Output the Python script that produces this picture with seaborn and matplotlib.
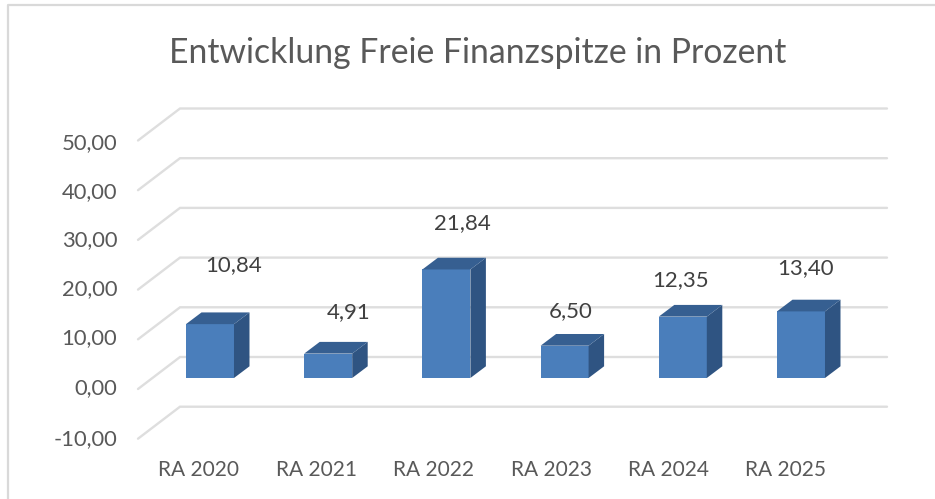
import matplotlib
matplotlib.use("Agg")
import matplotlib.pyplot as plt
import matplotlib.transforms as mtrans
from matplotlib.patches import Polygon
import pandas as pd
import seaborn as sns

categories = ["RA 2020", "RA 2021", "RA 2022", "RA 2023", "RA 2024", "RA 2025"]
values = [10.84, 4.91, 21.84, 6.50, 12.35, 13.40]
value_labels = ["10,84", "4,91", "21,84", "6,50", "12,35", "13,40"]
y_ticks = [-10, 0, 10, 20, 30, 40, 50]
y_tick_labels = ["-10,00", "0,00", "10,00", "20,00", "30,00", "40,00", "50,00"]

# pixel layout of the picture
W, H = 935, 499
left, right, top, bottom = 130, 890, 100, 450
x0, x_step = 210, 118.2    # centre of first bar, bar spacing
y0, y_step = 378, 4.97     # baseline of the bars, pixels per unit
label_dx = [24, 20, 16, 6, -2, 5]
label_dy = [59, 42, 46, 35, 37, 43]
y_label_shift = [9, 8, 8, 8, 9, 11, 12]
x_label_shift = [11, 12, 13, 13, 14, 16]

sns.set_theme(style="white")
plt.rcParams["font.family"] = ["Lato", "DejaVu Sans"]

df = pd.DataFrame({"cat": categories, "val": values})

fig = plt.figure(figsize=(W / 100, H / 100), dpi=100)
ax = fig.add_axes([left / W, 1 - bottom / H, (right - left) / W, (bottom - top) / H])

sns.barplot(data=df, x="cat", y="val", color="#4a7ebb", saturation=1, width=0.406,
            linewidth=0, ax=ax, zorder=3)

ax.set_xlim((left - x0) / x_step, (right - x0) / x_step)
ax.set_ylim((y0 - bottom) / y_step, (y0 - top) / y_step)
ax.set_xlabel("")
ax.set_ylabel("")
sns.despine(ax=ax, left=True, bottom=True)
ax.patch.set_alpha(0)

# 3d look: depth of bars and of the back wall, in data units
dx = 15.5 / x_step
dy = 11.7 / y_step
wall_up = 21 / y_step
floor_down = 11 / y_step
wall_x0 = (180 - x0) / x_step
wall_x1 = (887 - x0) / x_step
front_x = (138 - x0) / x_step

for v in y_ticks:
    ax.plot([front_x, wall_x0, wall_x1],
            [v - floor_down, v + wall_up, v + wall_up],
            color="#dedede", lw=1.7, zorder=1, clip_on=False, solid_joinstyle="miter")

for bar in ax.patches[:len(values)]:
    xa, xb = bar.get_x(), bar.get_x() + bar.get_width()
    h = bar.get_height()
    ax.add_patch(Polygon([(xb, 0), (xb + dx, dy), (xb + dx, h + dy), (xb, h)],
                         closed=True, color="#2f5482", lw=0, zorder=4))
    ax.add_patch(Polygon([(xa, h), (xa + dx, h + dy), (xb + dx, h + dy), (xb, h)],
                         closed=True, color="#365f91", lw=0, zorder=4))

for i, v in enumerate(values):
    ax.annotate(value_labels[i], (i, v), xytext=(label_dx[i] * 0.72, label_dy[i] * 0.72),
                textcoords="offset points", ha="center", va="center",
                fontsize=16, color="#404040", zorder=5)

ax.set_yticks(y_ticks)
ax.set_yticklabels(y_tick_labels)
ax.tick_params(axis="both", length=0, labelcolor="#595959", labelsize=15.8)
ax.tick_params(axis="x", labelsize=15)

# labels sit off the bar plane in the original
for lab, shift in zip(ax.get_yticklabels(), y_label_shift):
    lab.set_transform(lab.get_transform()
                      + mtrans.ScaledTranslation(-8 / 100, -shift / 100, fig.dpi_scale_trans))
for lab, shift in zip(ax.get_xticklabels(), x_label_shift):
    lab.set_transform(lab.get_transform()
                      + mtrans.ScaledTranslation(-shift / 100, -5 / 100, fig.dpi_scale_trans))

fig.text(478 / W, 1 - 53 / H, "Entwicklung Freie Finanzspitze in Prozent",
         ha="center", va="center", fontsize=24.3, color="#595959")

# chart frame, only top and left are in the crop
fig.add_artist(plt.Line2D([8 / W, 8 / W, 1], [0, 1 - 5 / H, 1 - 5 / H],
                          color="#d9d9d9", lw=1.6))

fig.savefig("out.png", dpi=100)
